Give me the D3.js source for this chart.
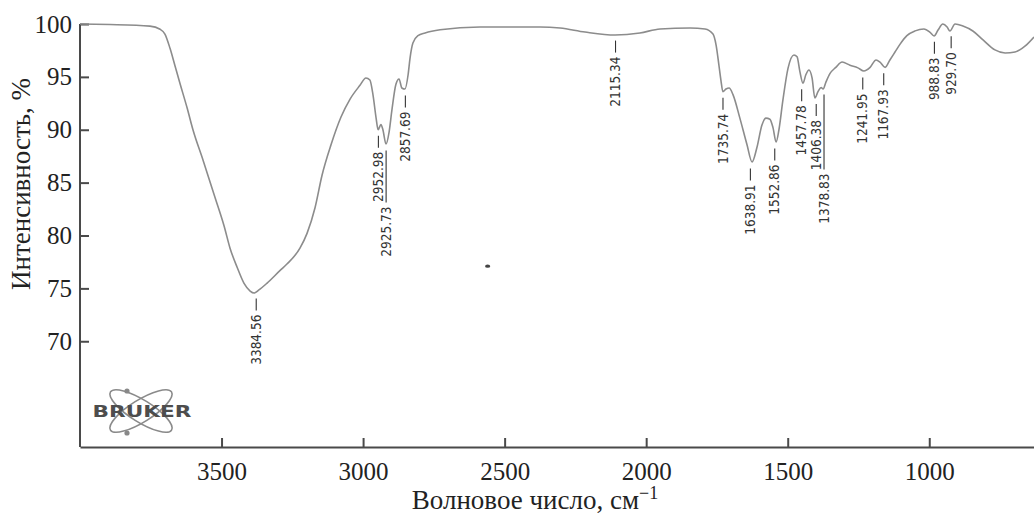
<!DOCTYPE html>
<html>
<head>
<meta charset="utf-8">
<script src="https://cdn.jsdelivr.net/npm/d3@7"></script>
<style>
  body { margin: 0; background: #fff; }
  .axis path, .axis line { stroke: #4a4a4a; stroke-width: 2; }
  .axis text { font-family: "Liberation Serif", "Times New Roman", serif; font-size: 25px; fill: #222; }
  .peak text { font-family: "DejaVu Sans Condensed", "Liberation Sans Narrow", sans-serif; font-stretch: condensed; font-size: 13.5px; fill: #333; }
</style>
</head>
<body>
<div id="chart"></div>
<script>
// spectrum (wavenumber cm-1 / transmittance %)
var wavenumber = [4000, 3894, 3753, 3717, 3700, 3682, 3664, 3647, 3622, 3601, 3565, 3523, 3491, 3470,
  3445, 3421, 3399, 3385, 3368, 3339, 3293, 3269, 3223, 3198, 3170, 3145, 3113, 3078, 3046, 3011,
  2990, 2976, 2965, 2954, 2947, 2937, 2930, 2919, 2908, 2898, 2884, 2873, 2863, 2852, 2841, 2834,
  2824, 2806, 2781, 2728, 2587, 2375, 2304, 2216, 2110, 2022, 1951, 1845, 1792, 1764, 1753, 1743,
  1736, 1729, 1718, 1707, 1693, 1669, 1644, 1626, 1609, 1591, 1577, 1563, 1552, 1541, 1531, 1517,
  1499, 1478, 1467, 1457, 1446, 1436, 1425, 1414, 1404, 1393, 1382, 1375, 1365, 1351, 1330, 1308,
  1280, 1252, 1231, 1209, 1188, 1174, 1156, 1139, 1121, 1103, 1079, 1050, 1019, 998, 983, 969,
  952, 937, 927, 909, 881, 846, 810, 768, 732, 697, 662, 630];
var transmittance = [100.0, 99.95, 99.8, 99.5, 99.05, 97.7, 96.0, 94.4, 92.1, 90.0, 87.1, 83.6, 80.9, 78.8,
  77.0, 75.5, 74.75, 74.56, 74.85, 75.5, 76.7, 77.3, 78.8, 80.2, 82.6, 85.7, 88.6, 91.2, 92.9, 94.2,
  94.9, 94.7, 93.3, 91.1, 90.0, 90.5, 90.0, 88.65, 89.8, 91.9, 94.3, 94.8, 93.95, 93.85, 95.2, 96.8,
  98.2, 98.9, 99.15, 99.45, 99.72, 99.72, 99.62, 99.24, 98.96, 99.15, 99.53, 99.62, 99.53, 99.05, 98.0, 96.1,
  94.7, 93.6, 93.85, 93.95, 93.3, 91.1, 88.6, 86.95, 88.3, 90.45, 91.1, 91.0, 90.2, 88.84, 90.0, 92.8,
  95.8, 97.07, 96.9, 95.5, 94.4, 95.2, 95.65, 94.9, 93.0, 93.6, 94.0, 93.85, 94.5, 95.3, 95.9, 96.4,
  96.1, 95.85, 95.56, 95.9, 96.6, 96.4, 95.9, 96.6, 97.35, 98.1, 98.9, 99.35, 99.53, 99.24, 98.87, 99.43,
  100.0, 99.72, 99.34, 100.0, 99.81, 99.34, 98.5, 97.55, 97.26, 97.35, 97.9, 98.77];

// marked peaks
var peakWn = [3384.56, 2952.98, 2925.73, 2857.69, 2115.34, 1735.74, 1638.91, 1552.86, 1457.78,
  1406.38, 1378.83, 1241.95, 1167.93, 988.83, 929.70];
var peakT = [74.6, 90.0, 88.6, 93.8, 99.0, 93.6, 86.9, 88.8, 94.4, 93.0, 93.9, 95.5, 95.9, 98.9, 99.4];
var peakLeader = [12, 12, 52, 12, 12, 12, 12, 12, 12, 12, 75, 12, 12, 12, 12];

var xTicks = [3500, 3000, 2500, 2000, 1500, 1000];
var yTicks = [70, 75, 80, 85, 90, 95, 100];

var width = 1034, height = 516;
var margin = {top: 24, left: 80, bottom: 69, right: 0};

var svg = d3.select('#chart').append('svg')
    .attr('width', width)
    .attr('height', height);

var x = d3.scaleLinear().domain([4000, 630]).range([margin.left, width - margin.right]);
var y = d3.scaleLinear().domain([60, 100]).range([height - margin.bottom, margin.top]);

// axes, ticks point inside
svg.append('g').attr('class', 'axis x')
    .attr('transform', 'translate(0,' + (height - margin.bottom) + ')')
    .call(d3.axisBottom(x).tickValues(xTicks).tickSize(-9).tickSizeOuter(0).tickPadding(15).tickFormat(d3.format('d')))
    .call(function(g){ g.selectAll('.tick line').attr('stroke-width', 1.4); });

svg.append('g').attr('class', 'axis y')
    .attr('transform', 'translate(' + margin.left + ',0)')
    .call(d3.axisLeft(y).tickValues(yTicks).tickSize(-9).tickSizeOuter(0).tickPadding(8))
    .call(function(g){
        g.select('.domain').attr('d', 'M0,' + y(100) + 'V' + y(60));
        g.selectAll('.tick line').attr('stroke-width', 1.4);
    });

// axis titles
var xTitle = svg.append('text')
    .attr('x', 535).attr('y', 509)
    .attr('text-anchor', 'middle')
    .style('font-family', '"Liberation Serif", serif')
    .style('font-size', '27px')
    .attr('fill', '#222');
xTitle.append('tspan').text('Волновое число, см');
xTitle.append('tspan').attr('dy', -10).style('font-size', '18px').text('−1');

svg.append('text')
    .attr('transform', 'translate(30,184) rotate(-90)')
    .attr('text-anchor', 'middle')
    .style('font-family', '"Liberation Serif", serif')
    .style('font-size', '27px')
    .attr('fill', '#222')
    .text('Интенсивность, %');

// spectrum line
var spectrum = wavenumber.map(function(w, i){ return {w: w, t: transmittance[i]}; });

svg.append('path')
    .datum(spectrum)
    .attr('fill', 'none')
    .attr('stroke', '#8c8c8c')
    .attr('stroke-width', 1.6)
    .attr('d', d3.line()
        .x(function(d){ return x(d.w); })
        .y(function(d){ return y(d.t); })
        .curve(d3.curveMonotoneX));

// stray speck on the scan
svg.append('ellipse')
    .attr('cx', x(2560)).attr('cy', y(77.1))
    .attr('rx', 2.6).attr('ry', 1.6)
    .attr('fill', '#444');

// peak labels
var peaks = svg.selectAll('g.peak')
    .data(peakWn)
    .enter().append('g')
    .attr('class', 'peak')
    .attr('transform', function(d, i){
        return 'translate(' + (x(d) + 2) + ',' + (y(peakT[i]) + 6) + ') rotate(-90)';
    });

peaks.append('line')
    .attr('x1', 0)
    .attr('x2', function(d, i){ return -peakLeader[i]; })
    .attr('y1', 0).attr('y2', 0)
    .attr('stroke', '#333')
    .attr('stroke-width', 1.1);

peaks.append('text')
    .attr('x', function(d, i){ return -peakLeader[i] - 4; })
    .attr('dy', '0.35em')
    .attr('text-anchor', 'end')
    .text(function(d){ return d.toFixed(2); });

// Bruker logo
var logo = svg.append('g').attr('transform', 'translate(141,411)');
logo.append('ellipse')
    .attr('rx', 36).attr('ry', 11)
    .attr('transform', 'rotate(32)')
    .attr('fill', 'none').attr('stroke', '#8a8a8a').attr('stroke-width', 1.6);
logo.append('ellipse')
    .attr('rx', 36).attr('ry', 11)
    .attr('transform', 'rotate(-32)')
    .attr('fill', 'none').attr('stroke', '#8a8a8a').attr('stroke-width', 1.6);
logo.append('circle').attr('cx', -14).attr('cy', -20).attr('r', 2.6).attr('fill', '#888');
logo.append('circle').attr('cx', -14).attr('cy', 22).attr('r', 2.6).attr('fill', '#888');
logo.append('text')
    .attr('x', 1).attr('y', 6)
    .attr('text-anchor', 'middle')
    .attr('textLength', 99)
    .attr('lengthAdjust', 'spacingAndGlyphs')
    .style('font-family', '"DejaVu Sans", sans-serif')
    .style('font-weight', 'bold')
    .style('font-size', '15px')
    .attr('fill', '#4d4d4d')
    .text('BRUKER');
</script>
</body>
</html>
